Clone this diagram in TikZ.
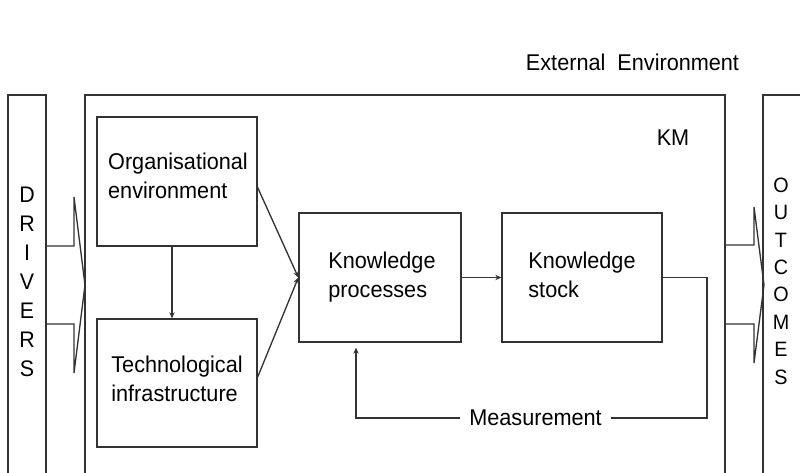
\documentclass[tikz,border=0pt]{standalone}
\usepackage{fontspec}
\setmainfont[FakeStretch=0.95]{Liberation Sans}
\usetikzlibrary{arrows.meta}
\tikzset{
  line/.style={draw=black!80, line width=1pt},
  box/.style={line, rectangle, inner sep=0pt},
  lbl/.style={inner sep=0pt, font=\fontsize{17.1pt}{22pt}\selectfont},
  boxtext/.style={lbl, align=left, text height=34.3pt, text depth=0pt},
  arr/.style={line, -{Stealth[length=4.5pt, width=4pt]}},
  hollow/.style={line, line join=miter}
}
\begin{document}
\begin{tikzpicture}[x=0.75pt, y=-0.75pt]
\clip (0,0) rectangle (800,472);
\useasboundingbox (0,0) rectangle (800,472);

% outer frames (open at the bottom)
\draw[line] (8,480) -- (8,95) -- (46,95) -- (46,480);
\draw[line] (85,480) -- (85,95) -- (725,95) -- (725,480);
\draw[line] (763,480) -- (763,95) -- (810,95);

% texts of frames
\node[lbl] (ext) at (632.5,62) {External\ \ Environment};
\node[lbl] (km) at (673,138) {KM};
\node[lbl, align=center, font=\fontsize{16.9pt}{21.75pt}\selectfont] (drivers) at (27,282) {D\\R\\I\\V\\E\\R\\S};
\node[lbl, align=center, font=\fontsize{15.6pt}{20.55pt}\selectfont] (outcomes) at (781,281) {O\\U\\T\\C\\O\\M\\E\\S};

% hollow arrows
\draw[hollow] (46,246) -- (74,246) -- (74,197) -- (85,285) -- (74,373) -- (74,324) -- (46,324);
\draw[hollow] (725,245) -- (754,245) -- (754,207) -- (764,285) -- (754,363) -- (754,324) -- (725,324);

% inner boxes
\node[box, minimum width=120pt, minimum height=96.75pt] (org) at (177,181.5) {};
\node[box, minimum width=120pt, minimum height=96pt] (tech) at (177,383) {};
\node[box, minimum width=121.5pt, minimum height=96.75pt] (kp) at (380,277.5) {};
\node[box, minimum width=120pt, minimum height=96.75pt] (ks) at (582,277.5) {};

\node[boxtext] (orgT) at (178,176) {Organisational\\environment};
\node[boxtext] (techT) at (177,378.5) {Technological\\infrastructure};
\node[boxtext] (kpT) at (382,274.5) {Knowledge\\processes};
\node[boxtext] (ksT) at (582,274.5) {Knowledge\\stock};

% connectors
\draw[arr] ([xshift=-3.75pt]org.south) -- ([xshift=-3.75pt]tech.north);
\draw[arr] ([yshift=-4.5pt]org.east) -- (kp.west);
\draw[arr] ([yshift=4.5pt]tech.east) -- (kp.west);
\draw[arr] (kp.east) -- (ks.west);

% measurement loop
\node[lbl, inner xsep=7pt] (meas) at (535.5,418) {Measurement};
\coordinate (mR) at (707,418);
\coordinate (mL) at (356,418);
\draw[line] (ks.east) -- (ks.east -| mR) -- (mR) -- (meas.east);
\draw[arr, shorten >=3.75pt] (meas.west) -- (mL) -- (mL |- kp.south);
\end{tikzpicture}
\end{document}
